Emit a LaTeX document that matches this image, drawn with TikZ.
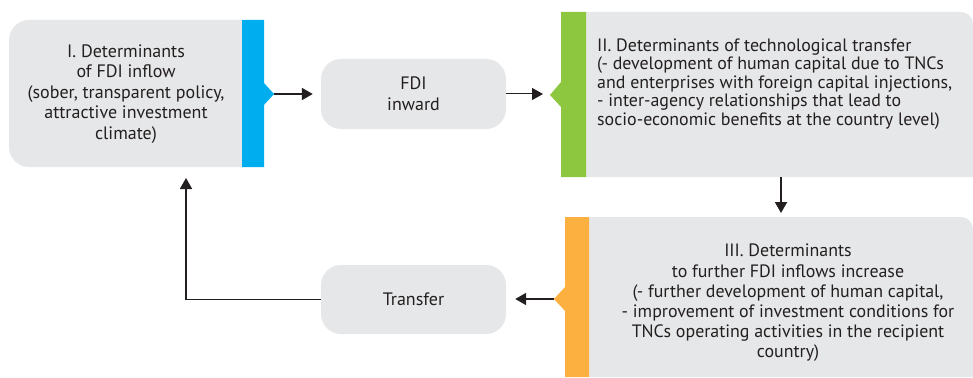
\documentclass[tikz,border=0pt]{standalone}
\usepackage{fontspec}
\setmainfont{PT Sans}
\usetikzlibrary{arrows.meta}
\definecolor{boxgray}{HTML}{E6E7E8}
\definecolor{barblue}{HTML}{00AEEF}
\definecolor{bargreen}{HTML}{8DC63F}
\definecolor{barorange}{HTML}{FBB040}
\definecolor{ink}{HTML}{231F20}
\tikzset{
  arr/.style={draw=ink, line width=1.8pt, -{Triangle[length=11pt,width=12pt]}},
  thinarr/.style={draw=ink, line width=1pt, -{Triangle[length=11pt,width=12pt]}},
  pill/.style={fill=boxgray, rounded corners=20pt, minimum width=185pt, minimum height=70pt, align=center, text=ink, font=\fontsize{18}{21}\selectfont, inner sep=0pt},
  txt/.style={text=ink, inner sep=0pt},
}
\begin{document}
\begin{tikzpicture}[x=1pt,y=-1pt]
\useasboundingbox (0,0) rectangle (973,377);
% Box I
\fill[boxgray] (242,20) [rounded corners=20pt] -- (9,20) -- (9,167) [sharp corners] -- (242,167) -- cycle;
\fill[barblue] (242,20) -- (264,20) -- (264,83) -- (274,94) -- (264,105) -- (264,167) -- (242,167) -- cycle;
\coordinate (n1) at (274,94);
\node[txt, align=center, font=\fontsize{18}{20.5}\selectfont] (t1) at (126,94) {I. Determinants\\of FDI inflow\\(sober, transparent policy,\\attractive investment\\climate)};
% FDI inward
\node[pill] (fdi) at (413.5,94) {FDI\\inward};
% Box II
\fill[boxgray] (586,12) [rounded corners=12pt] -- (973,12) [sharp corners] -- (973,177) -- (586,177) -- cycle;
\fill[bargreen] (561,12) -- (586,12) -- (586,177) -- (561,177) -- (561,107) -- (550,95) -- (561,82) -- cycle;
\coordinate (n2) at (550,94);
\node[txt, align=left, anchor=west, font=\fontsize{17.9}{18.4}\selectfont] (t2) at (597,84) {II. Determinants of technological transfer\\(- development of human capital due to TNCs\\and enterprises with foreign capital injections,\\- inter-agency relationships that lead to\\socio-economic benefits at the country level)};
\coordinate (b2) at (781,177);
% Box III
\fill[boxgray] (589,217) [rounded corners=12pt] -- (973,217) [sharp corners] -- (973,377) -- (589,377) -- cycle;
\fill[barorange] (565,217) -- (589,217) -- (589,377) -- (565,377) -- (565,311) -- (554,299) -- (565,287) -- cycle;
\coordinate (n3) at (554,299);
\coordinate (t3top) at (781,213);
\node[txt, align=center, font=\fontsize{17.9}{20.2}\selectfont] (t3) at (788,303) {III. Determinants\\to further FDI inflows increase\\(- further development of human capital,\\- improvement of investment conditions for\\TNCs operating activities in the recipient\\country)};
% Transfer
\node[pill, minimum height=69pt] (tr) at (413.5,299.5) {Transfer};
\coordinate (c1) at (186,178);
% connectors
\draw[arr, shorten >=8pt] (n1) -- (fdi.west);
\draw[thinarr, shorten >=7pt] (fdi.east) -- (n2);
\draw[arr] (b2) -- (t3top);
\draw[arr, shorten >=9pt] (n3) -- (tr.east |- n3);
\draw[arr] (tr.west) -| (c1);
\end{tikzpicture}
\end{document}
